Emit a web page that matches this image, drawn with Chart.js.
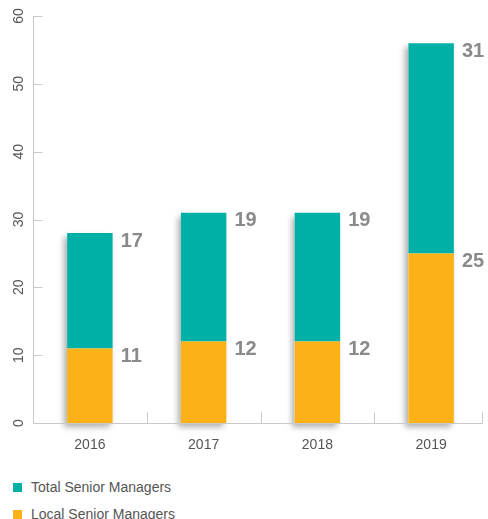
<!DOCTYPE html>
<html>
<head>
<meta charset="utf-8">
<script src="https://cdn.jsdelivr.net/npm/chart.js@4/dist/chart.umd.min.js"></script>
<style>
  html, body { margin: 0; padding: 0; background: #fff; overflow: hidden; }
  #wrap { position: relative; width: 488px; height: 519px; font-family: 'Liberation Sans', Arial, sans-serif; }
  #chart { position: absolute; left: 0; top: 0; }
  .legend { position: absolute; left: 13px; font-size: 14px; color: #555; }
  .legend div { position: relative; height: 27px; line-height: 16px; padding-left: 18px; }
  .legend span { position: absolute; left: 0; top: 4px; width: 9px; height: 9px; }
</style>
</head>
<body>
<div id="wrap">
  <canvas id="chart" width="488" height="463"></canvas>
  <div class="legend" id="legend" style="top:479px"></div>
</div>
<script>
const years = ['2016', '2017', '2018', '2019'];
const localManagers = [11, 12, 12, 25];
const totalManagers = [17, 19, 19, 31];
const yTicks = [0, 10, 20, 30, 40, 50, 60];

const TEAL = '#00b0a6';
const ORANGE = '#fcb217';
const AXIS = '#c9c9c9';
const FONT = "'Liberation Sans', Arial, sans-serif";

// legend: total first, then local
const legendItems = [
  { label: 'Total Senior Managers', color: TEAL },
  { label: 'Local Senior Managers', color: ORANGE },
];
document.getElementById('legend').innerHTML = legendItems
  .map(it => `<div><span style="background:${it.color}"></span>${it.label}</div>`)
  .join('');

// soft shadow behind each full stack
const stackShadow = {
  id: 'stackShadow',
  beforeDatasetsDraw(chart) {
    const ctx = chart.ctx;
    const bottom = chart.getDatasetMeta(0).data;
    const top = chart.getDatasetMeta(1).data;
    ctx.save();
    ctx.shadowColor = 'rgba(0,0,0,0.32)';
    ctx.shadowBlur = 6;
    ctx.shadowOffsetX = -3;
    ctx.shadowOffsetY = 4;
    ctx.fillStyle = '#fff';
    bottom.forEach((el, i) => {
      const t = top[i];
      ctx.fillRect(el.x - el.width / 2, t.y, el.width, el.base - t.y);
    });
    ctx.restore();
  }
};

// axis lines with inward tick marks
const axisLines = {
  id: 'axisLines',
  afterDraw(chart) {
    const ctx = chart.ctx;
    const x = chart.scales.x;
    const y = chart.scales.y;
    const area = chart.chartArea;
    const y0 = Math.round(y.getPixelForValue(0)) + 0.5;
    const left = Math.round(area.left) + 0.5;
    const right = Math.round(area.right) - 6 + 0.5;
    ctx.save();
    ctx.strokeStyle = AXIS;
    ctx.lineWidth = 1;
    ctx.beginPath();
    ctx.moveTo(left, Math.round(y.getPixelForValue(60)));
    ctx.lineTo(left, y0);
    ctx.lineTo(right, y0);
    yTicks.forEach(v => {
      if (v === 0) return;
      const py = Math.round(y.getPixelForValue(v)) + 0.5;
      ctx.moveTo(left, py);
      ctx.lineTo(left + 9, py);
    });
    for (let i = 0; i < years.length - 1; i++) {
      const px = Math.round((x.getPixelForValue(i) + x.getPixelForValue(i + 1)) / 2) + 0.5;
      ctx.moveTo(px, y0);
      ctx.lineTo(px, y0 - 11);
    }
    ctx.moveTo(right, y0);
    ctx.lineTo(right, y0 - 11);
    ctx.stroke();
    ctx.restore();
  }
};

// segment values to the right of each bar, level with the segment top
const valueLabels = {
  id: 'valueLabels',
  afterDatasetsDraw(chart) {
    const ctx = chart.ctx;
    ctx.save();
    ctx.font = 'bold 20px ' + FONT;
    ctx.fillStyle = '#8a8a8a';
    ctx.textAlign = 'left';
    ctx.textBaseline = 'top';
    chart.data.datasets.forEach((ds, di) => {
      chart.getDatasetMeta(di).data.forEach((el, i) => {
        ctx.fillText(String(ds.data[i]), el.x + el.width / 2 + 8, el.y - 2);
      });
    });
    ctx.restore();
  }
};

new Chart(document.getElementById('chart'), {
  type: 'bar',
  data: {
    labels: years,
    datasets: [
      { label: 'Local Senior Managers', data: localManagers, backgroundColor: ORANGE },
      { label: 'Total Senior Managers', data: totalManagers, backgroundColor: TEAL },
    ],
  },
  plugins: [stackShadow, valueLabels, axisLines],
  options: {
    responsive: false,
    animation: false,
    layout: { padding: { top: 16, right: -3, left: 0, bottom: 0 } },
    datasets: {
      bar: { categoryPercentage: 1, barPercentage: 0.4 },
    },
    scales: {
      x: {
        stacked: true,
        grid: { display: false, drawTicks: false },
        border: { display: false },
        ticks: {
          padding: 14,
          color: '#555',
          font: { family: FONT, size: 14 },
          maxRotation: 0,
        },
        afterFit(scale) { scale.height = 40; },
      },
      y: {
        stacked: true,
        min: 0,
        max: 60,
        grid: { display: false, drawTicks: false },
        border: { display: false },
        afterBuildTicks(scale) { scale.ticks = yTicks.map(v => ({ value: v })); },
        ticks: {
          minRotation: 90,
          maxRotation: 90,
          crossAlign: 'center',
          padding: 6,
          color: '#555',
          font: { family: FONT, size: 14 },
        },
        afterFit(scale) { scale.width = 33; },
      },
    },
    plugins: {
      legend: { display: false },
      tooltip: { enabled: false },
    },
  },
});
</script>
</body>
</html>
